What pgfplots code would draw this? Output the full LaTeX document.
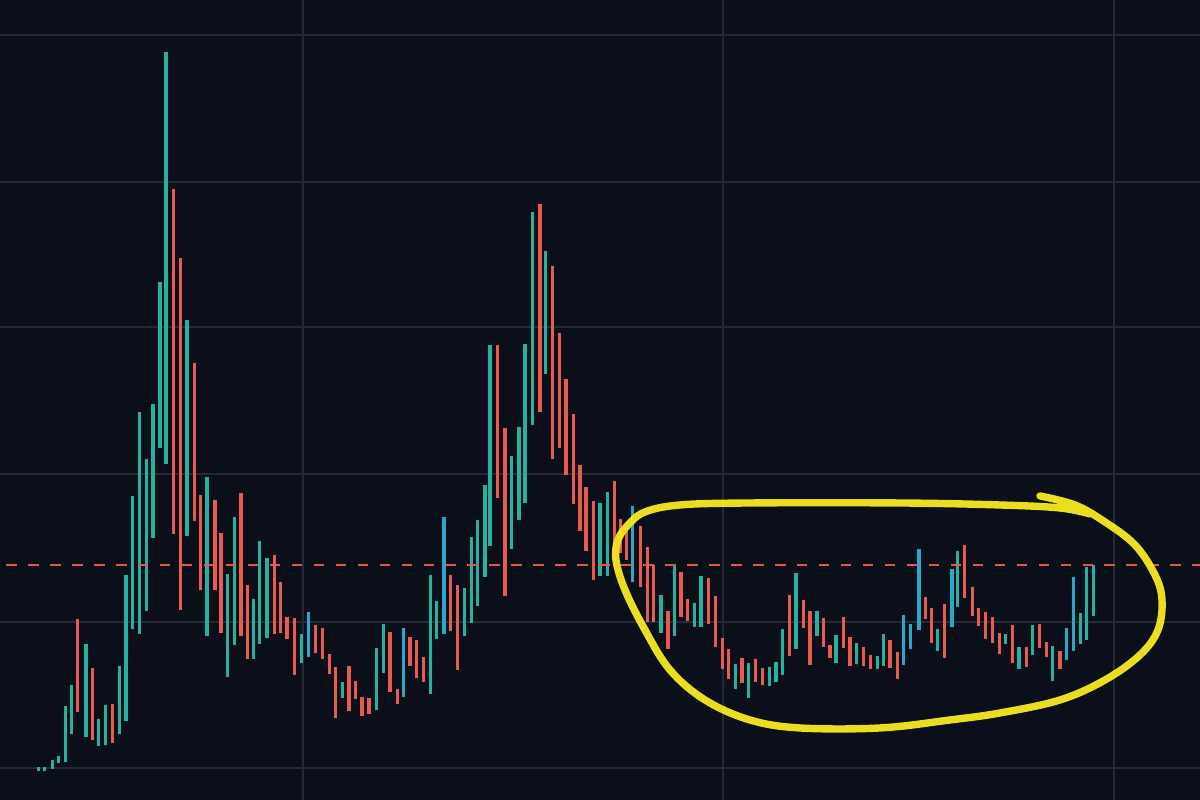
\documentclass[border=0pt]{standalone}
\usepackage{pgfplots}
\usepackage{pgfplotstable}
\pgfplotsset{compat=1.18}
\definecolor{bgc}{HTML}{0B0F1A}
\definecolor{gridc}{HTML}{252935}
\definecolor{tealc}{HTML}{28B09F}
\definecolor{bluec}{HTML}{2AA6C8}
\definecolor{redc}{HTML}{E95B50}
\definecolor{yelc}{HTML}{F7EA22}

% columns: x position, top of bar, bottom of bar (image rows, top = 0)
\pgfplotstableread{
x t b
38.8 767 771
44.8 767 771
52.3 760 769
58.3 756 763
65.3 706 762
71.3 685 734
86.0 644 737
98.3 719 746
105.3 705 745
119.3 666 734
126.0 575 721
132.3 496 629
139.5 412 634
146.5 459 611
153.0 404 538
160.0 282 448
166.0 52 464
187.0 320 536
207.0 477 636
227.3 574 677
234.3 517 645
253.3 599 659
259.3 541 644
267.0 558 638
301.3 634 663
342.3 682 698
376.7 648 710
383.3 624 673
430.5 575 694
436.7 601 639
464.2 588 636
471.4 537 623
477.5 520 606
485.0 485 577
490.0 345 546
511.7 456 549
519.0 427 520
525.0 344 503
532.3 212 425
545.7 251 374
600.0 503 576
607.3 492 576
661.0 595 633
674.7 566 636
694.3 603 627
701.0 576 627
735.3 664 689
748.7 663 698
769.3 667 686
776.0 662 682
782.7 629 675
796.0 573 649
817.0 611 636
836.0 635 663
856.7 643 664
877.7 656 669
883.3 634 666
937.3 629 651
957.7 551 607
1005.7 634 644
1019.0 647 669
1032.7 625 655
1052.7 646 681
1080.7 613 644
1086.7 567 640
1093.3 565 616
}\tealT

\pgfplotstableread{
x t b
308.3 612 657
403.7 628 697
444.0 517 634
632.5 506 582
903.3 615 665
910.7 624 649
919.0 549 630
952.0 569 627
1066.7 628 660
1073.3 577 651
}\blueT

\pgfplotstableread{
x t b
77.7 619 712
92.7 668 740
112.3 704 743
173.3 189 534
180.3 258 610
194.3 363 521
200.7 495 590
215.0 500 590
221.0 533 633
241.0 493 636
247.7 585 659
274.3 555 634
280.7 582 633
287.0 617 639
294.3 618 675
315.7 625 653
322.3 628 659
329.2 654 674
335.6 667 718
349.0 666 711
355.3 681 699
362.0 697 716
369.0 698 714
390.0 632 692
397.7 689 704
410.0 637 666
416.3 640 678
423.3 657 682
450.5 575 631
457.2 585 670
497.5 345 498
505.0 428 596
540.0 204 412
552.7 266 459
559.3 333 448
566.0 379 475
573.3 414 504
580.0 465 531
586.0 487 551
593.3 501 580
614.5 481 563
620.7 519 553
626.7 525 560
640.3 526 587
647.5 547 622
653.3 565 622
668.0 611 649
681.0 572 617
687.7 599 621
708.3 578 624
715.3 596 647
722.3 638 669
728.7 649 679
742.0 658 683
755.3 659 682
762.7 668 685
789.3 595 656
803.3 600 628
810.0 611 665
823.7 618 647
830.0 645 658
843.3 617 648
850.0 637 666
863.3 647 666
870.7 655 669
890.0 640 668
897.3 652 679
925.3 597 619
931.7 608 643
944.7 604 658
964.7 545 598
972.2 587 616
978.7 608 626
985.7 612 639
992.3 617 643
999.3 633 654
1012.3 625 663
1026.3 647 667
1039.3 624 648
1046.7 642 657
1060.0 651 669
}\redT

\begin{document}
\begin{tikzpicture}
\begin{axis}[
  width=12cm, height=8cm, scale only axis,
  xmin=0, xmax=1200, ymin=0, ymax=800, y dir=reverse,
  axis lines=none, clip=true,
  axis background/.style={fill=bgc},
]
\fill[bgc] (axis cs:0,0) rectangle (axis cs:1200,800);
% grid
\foreach \gy in {35,182,327,474,622,768}{
  \edef\tmp{\noexpand\draw[gridc, line width=0.6pt] (axis cs:0,\gy) -- (axis cs:1200,\gy);}\tmp
}
\foreach \gx in {303,723,1114}{
  \edef\tmp{\noexpand\draw[gridc, line width=0.6pt] (axis cs:\gx,0) -- (axis cs:\gx,800);}\tmp
}
% bars
\addplot[draw=none, mark=none, forget plot,
  error bars/.cd, y dir=plus, y explicit, error mark=none,
  error bar style={draw=tealc, line width=0.9pt}]
  table[x=x, y=t, y error expr=\thisrow{b}-\thisrow{t}] {\tealT};
\addplot[draw=none, mark=none, forget plot,
  error bars/.cd, y dir=plus, y explicit, error mark=none,
  error bar style={draw=bluec, line width=0.9pt}]
  table[x=x, y=t, y error expr=\thisrow{b}-\thisrow{t}] {\blueT};
\addplot[draw=none, mark=none, forget plot,
  error bars/.cd, y dir=plus, y explicit, error mark=none,
  error bar style={draw=redc, line width=0.9pt}]
  table[x=x, y=t, y error expr=\thisrow{b}-\thisrow{t}] {\redT};
% dashed level
\addplot[redc, line width=0.7pt, dash pattern=on 3pt off 3.25pt, dash phase=4.5pt, opacity=0.95, forget plot]
  coordinates {(0,565) (1200,565)};
% hand-drawn yellow loop
\addplot[yelc, line width=2.1pt, smooth, tension=0.6, opacity=0.95, line cap=round, forget plot]
  coordinates {(1040,496) (1075,505) (1105,522) (1135,545) (1155,575) (1162,600) (1158,630) (1140,655) (1105,680) (1060,700) (1000,713) (950,720) (880,728) (800,728) (750,720) (705,700) (670,670) (645,630) (625,590) (616,560) (618,540) (628,525) (645,512) (680,505) (750,503) (900,503) (1000,505) (1060,508) (1090,514)};
\end{axis}
\end{tikzpicture}
\end{document}
